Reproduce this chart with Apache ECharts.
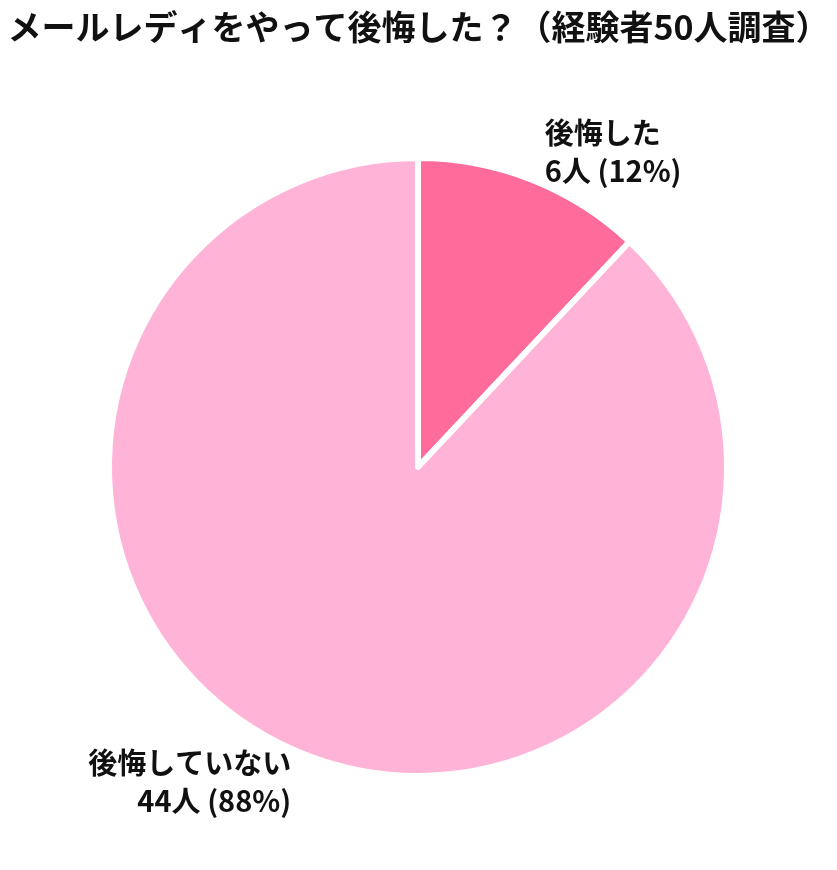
<!DOCTYPE html>
<html>
<head>
<meta charset="utf-8">
<script src="https://cdn.jsdelivr.net/npm/echarts@6/dist/echarts.min.js"></script>
<style>
html,body{margin:0;padding:0;background:#fff;}
#chart{width:837px;height:870px;}
</style>
</head>
<body>
<div id="chart"></div>
<script>
const titleText = 'メールレディをやって後悔した？（経験者50人調査）';
const categories = ['後悔した', '後悔していない'];
const counts = [6, 44];
const percents = [12, 88];
const colors = ['#FF6B9B', '#FFB4D7'];

const data = categories.map((c, i) => ({
  name: c,
  value: counts[i],
  pct: percents[i],
  itemStyle: { color: colors[i] }
}));

const chart = echarts.init(document.getElementById('chart'));
chart.setOption({
  backgroundColor: '#ffffff',
  animation: false,
  title: {
    text: titleText,
    left: 'center',
    top: 5,
    textStyle: {
      fontFamily: 'Noto Sans CJK JP',
      fontWeight: 'bold',
      fontSize: 34,
      color: '#111111'
    }
  },
  series: [{
    type: 'pie',
    center: [418, 467],
    radius: 309,
    startAngle: 90,
    clockwise: true,
    avoidLabelOverlap: false,
    itemStyle: { borderColor: '#ffffff', borderWidth: 6 },
    label: {
      show: true,
      position: 'outside',
      distanceToLabelLine: 2,
      fontFamily: 'Noto Sans CJK JP',
      fontWeight: 'bold',
      fontSize: 29,
      lineHeight: 38,
      color: '#111111',
      formatter: p => p.name + '\n' + p.value + '人 (' + p.data.pct + '%)'
    },
    labelLine: { show: false, length: 30, length2: 0 },
    emphasis: { disabled: true },
    data: data
  }]
});
</script>
</body>
</html>
